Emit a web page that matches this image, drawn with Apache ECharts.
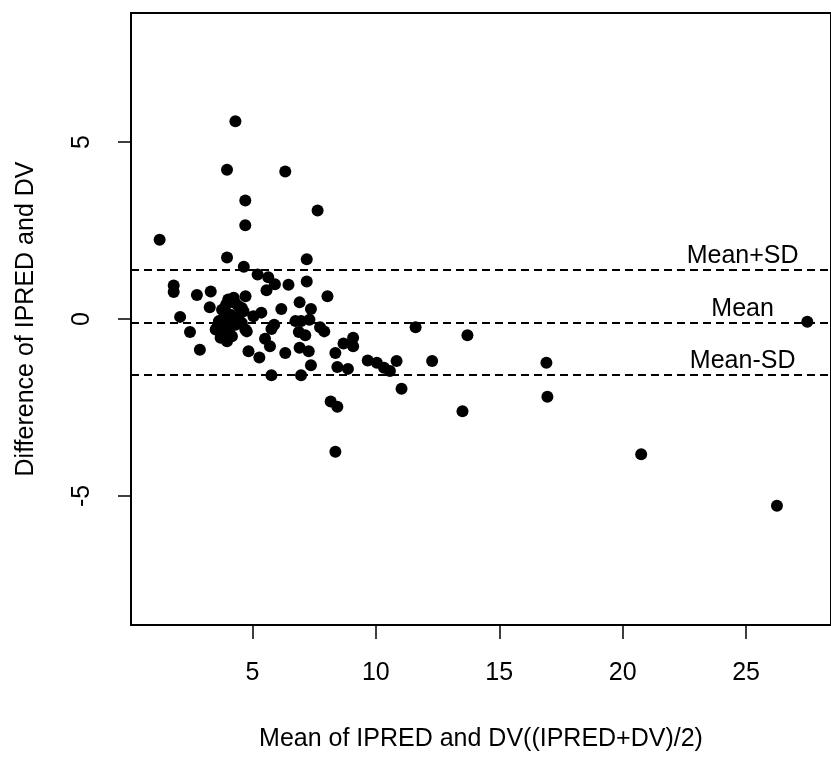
<!DOCTYPE html>
<html>
<head>
<meta charset="utf-8">
<script src="https://cdn.jsdelivr.net/npm/echarts@6/dist/echarts.min.js"></script>
<style>
  html, body { margin: 0; padding: 0; background: #fff; }
  #chart { width: 831px; height: 757px; }
</style>
</head>
<body>
<div id="chart"></div>
<script>
// Mean of IPRED and DV  ((IPRED+DV)/2)
const meanVals = [
  1.24, 4.31, 3.97, 6.33, 4.71, 7.64, 4.71, 3.97, 7.20, 4.65,
  5.21, 5.64, 5.91, 5.57, 6.46, 7.20, 8.04, 1.81, 1.81, 2.75,
  3.31, 3.27, 2.07, 2.47, 2.87, 4.24, 4.72, 6.17, 6.91, 7.37,
  5.36, 5.04, 4.57, 4.71, 5.88, 5.77, 6.74, 6.97, 7.31, 6.88,
  7.14, 7.74, 7.91, 5.51, 5.71, 4.84, 5.28, 6.33, 6.91, 7.28,
  7.37, 5.77, 6.97, 8.36, 8.44, 8.87, 8.69, 9.08, 9.08, 9.67,
  10.04, 10.33, 10.57, 10.84, 12.28, 11.61, 13.71, 16.91, 11.04, 8.17,
  8.44, 13.51, 16.95, 27.48, 8.36, 20.75, 26.25,
  3.93, 3.77, 4.44, 4.11, 4.44, 3.64, 3.97, 4.31, 3.51, 3.84,
  3.71, 3.97, 4.17, 4.57, 4.77, 4.64, 4.02, 3.85, 4.30, 3.60, 4.05
];
// Difference of IPRED and DV
const diffVals = [
  2.24, 5.59, 4.22, 4.17, 3.35, 3.07, 2.65, 1.74, 1.69, 1.48,
  1.26, 1.18, 0.98, 0.81, 0.97, 1.06, 0.64, 0.95, 0.76, 0.68,
  0.78, 0.33, 0.06, -0.37, -0.87, 0.60, 0.64, 0.28, 0.47, 0.28,
  0.18, 0.08, 0.31, -0.30, -0.16, -0.28, -0.06, -0.06, -0.02, -0.37,
  -0.46, -0.23, -0.35, -0.56, -0.77, -0.91, -1.09, -0.96, -0.81, -0.91,
  -1.31, -1.59, -1.59, -0.96, -1.36, -1.41, -0.69, -0.53, -0.77, -1.17,
  -1.24, -1.38, -1.47, -1.19, -1.19, -0.23, -0.46, -1.24, -1.97, -2.33,
  -2.48, -2.61, -2.20, -0.08, -3.75, -3.82, -5.28,
  0.40, 0.26, 0.36, 0.12, 0.08, -0.06, -0.11, -0.16, -0.30, -0.35,
  -0.53, -0.63, -0.49, -0.11, -0.35, 0.22, 0.55, 0.05, 0.45, -0.20, -0.30
];
// Reference lines
const refNames = ['Mean+SD', 'Mean', 'Mean-SD'];
const refValues = [1.40, -0.10, -1.57];
const refLabelX = 24.86;
// Tick labels
const xTicks = [5, 10, 15, 20, 25];
const yTicks = [-5, 0, 5];

const points = meanVals.map((m, i) => [m, diffVals[i]]);
const labelPts = refNames.map((n, i) => ({ value: [refLabelX, refValues[i]], name: n }));

const FONT = 'Liberation Sans, Arial, sans-serif';
const chart = echarts.init(document.getElementById('chart'), null, { renderer: 'canvas' });
chart.setOption({
  animation: false,
  backgroundColor: '#fff',
  grid: {
    left: 131, top: 13, width: 709, height: 616,
    show: true, borderColor: '#000', borderWidth: 2, backgroundColor: 'transparent'
  },
  xAxis: {
    type: 'value', min: 0.08, max: 28.44,
    name: 'Mean of IPRED and DV((IPRED+DV)/2)',
    nameLocation: 'middle', nameGap: 102,
    nameTextStyle: { fontFamily: FONT, fontSize: 25, color: '#000' },
    axisLine: { show: false, onZero: false },
    splitLine: { show: false },
    axisTick: { show: true, customValues: xTicks, length: 14, lineStyle: { color: '#000', width: 1.5 } },
    axisLabel: { customValues: xTicks, margin: 36, fontFamily: FONT, fontSize: 25, color: '#000' }
  },
  yAxis: {
    type: 'value', min: -8.65, max: 8.65,
    name: 'Difference of IPRED and DV',
    nameLocation: 'middle', nameGap: 92, nameRotate: 90,
    nameTextStyle: { fontFamily: FONT, fontSize: 25, color: '#000' },
    axisLine: { show: false, onZero: false },
    splitLine: { show: false },
    axisTick: { show: true, customValues: yTicks, length: 13, lineStyle: { color: '#000', width: 1.5 } },
    axisLabel: { customValues: yTicks, rotate: 90, margin: 36, fontFamily: FONT, fontSize: 25, color: '#000' }
  },
  series: [
    {
      type: 'scatter',
      data: points,
      symbol: 'circle',
      symbolSize: 12,
      itemStyle: { color: '#000', opacity: 1 },
      markLine: {
        silent: true,
        symbol: ['none', 'none'],
        label: { show: false },
        lineStyle: { color: '#000', type: [8, 5], width: 1.8, opacity: 1 },
        data: refValues.map(v => ({ yAxis: v }))
      }
    },
    {
      type: 'scatter',
      data: labelPts,
      symbol: 'circle',
      symbolSize: 1,
      itemStyle: { color: 'rgba(255,255,255,0)', opacity: 1 },
      label: {
        show: true, position: 'top', distance: 0,
        formatter: p => p.name,
        fontFamily: FONT, fontSize: 25, color: '#000', opacity: 1
      }
    }
  ]
});
</script>
</body>
</html>
